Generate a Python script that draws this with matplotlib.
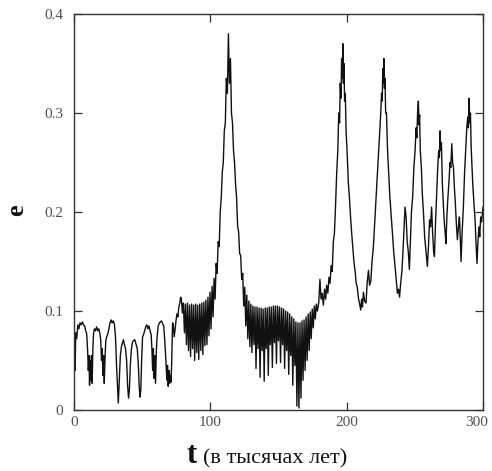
import numpy as np
import matplotlib
matplotlib.use("Agg")
import matplotlib.pyplot as plt
from matplotlib.transforms import ScaledTranslation

# ---- data (t in thousand years, e eccentricity) ----
# segment A: irregular early part (0 .. 78)
t_a = [0.0, 0.3, 0.8, 1.3, 2.0, 2.8, 3.6, 4.4, 5.3, 6.2, 7.0, 7.8, 8.6, 9.3,
       10.0, 10.5, 11.0, 11.4, 11.8, 12.3, 12.8, 13.3, 13.8, 14.3, 15.0, 15.8,
       16.6, 17.4, 18.2, 19.0, 19.6, 20.2, 20.7, 21.2, 21.7, 22.2, 22.7, 23.3,
       24.0, 24.8, 25.6, 26.4, 27.2, 28.0, 28.8, 29.6, 30.4, 31.2, 31.8, 32.5,
       33.2, 34.0, 34.8, 35.6, 36.2, 37.0, 37.8, 38.6, 39.3, 40.0, 40.6, 41.3,
       42.0, 42.8, 43.6, 44.6, 45.6, 46.4, 47.2, 47.8, 48.4, 49.0, 49.6, 50.3,
       51.0, 51.8, 52.6, 53.4, 54.2, 55.0, 55.8, 56.6, 57.2, 57.7, 58.2, 58.7,
       59.2, 59.8, 60.4, 61.0, 61.8, 62.6, 63.4, 64.2, 65.0, 65.8, 66.6, 67.4,
       68.1, 68.6, 69.1, 69.6, 70.1, 70.6, 71.1, 71.6, 72.3, 72.8, 73.5, 74.2,
       74.8, 75.5, 76.2, 76.9, 77.6, 78.2]
e_a = [0.017, 0.070, 0.040, 0.078, 0.072, 0.086, 0.082, 0.088, 0.086, 0.089,
       0.086, 0.085, 0.080, 0.077, 0.060, 0.040, 0.055, 0.025, 0.050, 0.030,
       0.055, 0.027, 0.060, 0.077, 0.082, 0.080, 0.084, 0.080, 0.082, 0.077,
       0.071, 0.050, 0.062, 0.035, 0.055, 0.027, 0.050, 0.070, 0.074, 0.077,
       0.082, 0.088, 0.091, 0.088, 0.090, 0.087, 0.075, 0.045, 0.027, 0.007,
       0.030, 0.055, 0.064, 0.068, 0.071, 0.066, 0.062, 0.050, 0.025, 0.012,
       0.020, 0.045, 0.060, 0.068, 0.070, 0.071, 0.066, 0.062, 0.045, 0.025,
       0.013, 0.020, 0.050, 0.074, 0.076, 0.080, 0.084, 0.086, 0.082, 0.085,
       0.080, 0.076, 0.060, 0.040, 0.062, 0.032, 0.055, 0.027, 0.060, 0.075,
       0.085, 0.088, 0.089, 0.090, 0.087, 0.085, 0.070, 0.050, 0.030, 0.045,
       0.024, 0.040, 0.027, 0.035, 0.028, 0.045, 0.088, 0.086, 0.074,
       0.082, 0.090, 0.097, 0.094, 0.104, 0.108, 0.114]

# segment B: densely oscillating part (78.75 .. 178.5), sampled every 0.75
t_b_start = 78.75
t_b_step = 0.75
e_b = [0.112, 0.098, 0.108, 0.078, 0.107, 0.066, 0.108, 0.060, 0.106, 0.054,
       0.107, 0.062, 0.106, 0.050, 0.107, 0.058, 0.106, 0.051, 0.107, 0.060,
       0.108, 0.056, 0.109, 0.065, 0.111, 0.066, 0.114, 0.075, 0.119, 0.082,
       0.125, 0.094, 0.133, 0.112, 0.148, 0.138, 0.170, 0.165, 0.200, 0.214,
       0.240, 0.250, 0.282, 0.290, 0.335, 0.320, 0.380, 0.330, 0.355, 0.300,
       0.290, 0.262, 0.250, 0.228, 0.215, 0.186, 0.180, 0.158, 0.156, 0.132,
       0.138, 0.105, 0.124, 0.085, 0.116, 0.072, 0.110, 0.064, 0.107, 0.058,
       0.105, 0.066, 0.104, 0.042, 0.104, 0.062, 0.103, 0.033, 0.103, 0.060,
       0.102, 0.029, 0.103, 0.062, 0.103, 0.035, 0.104, 0.066, 0.104, 0.043,
       0.105, 0.068, 0.105, 0.047, 0.105, 0.070, 0.104, 0.048, 0.103, 0.066,
       0.102, 0.042, 0.100, 0.060, 0.099, 0.036, 0.097, 0.055, 0.094, 0.025,
       0.092, 0.045, 0.089, 0.004, 0.088, 0.002, 0.088, 0.012, 0.090, 0.030,
       0.091, 0.040, 0.094, 0.050, 0.097, 0.060, 0.099, 0.072, 0.102, 0.083,
       0.105, 0.092, 0.107, 0.100]

# segment C: late part with the large peaks (179.5 .. 300)
t_c = [179.5, 180.4, 181.2, 182.0, 182.9, 183.8, 184.6, 185.3, 186.2, 187.0,
       187.8, 188.6, 189.4, 190.2, 191.0, 191.8, 192.7, 193.5, 194.2, 194.8,
       195.3, 195.8, 196.3, 196.8, 197.2, 197.6, 198.0, 198.5, 199.0, 199.6,
       200.3, 201.2, 202.0, 202.8, 203.6, 204.5, 205.3, 206.2, 207.0, 207.8,
       208.6, 209.4, 210.3, 211.0, 211.6, 212.3, 213.2, 214.2, 215.0, 216.0,
       216.8, 217.7, 218.6, 219.6, 220.6, 221.6, 222.6, 223.5, 224.3, 225.0,
       225.6, 226.1, 226.5, 226.9, 227.3, 227.7, 228.1, 228.6, 229.2, 230.0,
       230.8, 231.7, 232.6, 233.5, 234.5, 235.5, 236.4, 237.2, 238.0, 238.8,
       239.6, 240.5, 241.3, 242.0, 242.8, 243.6, 244.4, 245.2, 246.0, 246.7,
       247.5, 248.4, 249.3, 250.2, 250.9, 251.5, 252.0, 252.6, 253.0, 253.5,
       254.0, 254.8, 255.5, 256.3, 257.2, 258.2, 259.2, 260.0, 260.8, 261.5,
       262.3, 263.0, 263.8, 264.4, 265.2, 266.0, 266.8, 267.5, 268.0, 268.5,
       269.0, 269.5, 270.2, 271.0, 271.7, 272.3, 272.8, 273.5, 274.1, 275.0,
       275.8, 276.4, 277.1, 277.7, 278.3, 279.0, 279.6, 280.4, 281.2, 282.0,
       282.7, 283.3, 283.9, 284.7, 285.6, 286.5, 287.4, 288.1, 288.8, 289.3,
       289.8, 290.3, 290.8, 291.3, 292.0, 292.5, 293.3, 294.2, 295.0, 295.6,
       296.3, 297.0, 297.6, 298.3, 299.0, 300.0]
e_c = [0.108, 0.132, 0.112, 0.118, 0.106, 0.122, 0.112, 0.126, 0.118, 0.134,
       0.128, 0.146, 0.140, 0.170, 0.178, 0.205, 0.240, 0.262, 0.300, 0.290,
       0.330, 0.315, 0.355, 0.335, 0.370, 0.330, 0.350, 0.312, 0.320, 0.280,
       0.262, 0.230, 0.215, 0.196, 0.180, 0.164, 0.150, 0.140, 0.128, 0.124,
       0.113, 0.108, 0.101, 0.112, 0.104, 0.119, 0.110, 0.108, 0.128, 0.141,
       0.126, 0.130, 0.150, 0.165, 0.190, 0.215, 0.240, 0.262, 0.282, 0.300,
       0.320, 0.312, 0.345, 0.330, 0.355, 0.325, 0.335, 0.300, 0.300, 0.262,
       0.240, 0.215, 0.198, 0.180, 0.160, 0.145, 0.130, 0.118, 0.122, 0.114,
       0.128, 0.140, 0.160, 0.180, 0.205, 0.195, 0.170, 0.160, 0.142, 0.168,
       0.200, 0.215, 0.245, 0.262, 0.285, 0.275, 0.300, 0.312, 0.288, 0.298,
       0.262, 0.245, 0.218, 0.200, 0.175, 0.160, 0.145, 0.165, 0.192, 0.185,
       0.205, 0.180, 0.160, 0.155, 0.190, 0.218, 0.245, 0.262, 0.255, 0.282,
       0.262, 0.270, 0.228, 0.205, 0.188, 0.178, 0.168, 0.195, 0.211, 0.230,
       0.250, 0.245, 0.269, 0.250, 0.246, 0.225, 0.212, 0.190, 0.172, 0.185,
       0.195, 0.175, 0.150, 0.180, 0.205, 0.240, 0.266, 0.285, 0.296, 0.285,
       0.315, 0.290, 0.300, 0.266, 0.245, 0.228, 0.210, 0.192, 0.165, 0.148,
       0.170, 0.185, 0.175, 0.195, 0.190, 0.205]

x_ticks = [0, 100, 200, 300]
x_tick_labels = ["0", "100", "200", "300"]
y_ticks = [0, 0.1, 0.2, 0.3, 0.4]
y_tick_labels = ["0", "0.1", "0.2", "0.3", "0.4"]

# ---- assemble ----
t_b = t_b_start + t_b_step * np.arange(len(e_b))
t = np.concatenate([t_a, t_b, t_c])
e = np.concatenate([e_a, e_b, e_c])

plt.rcParams["font.family"] = ["Liberation Serif", "DejaVu Serif"]

fig = plt.figure(figsize=(4.92, 4.71), dpi=100)
ax = fig.add_axes([74 / 492, 1 - 410 / 471, (483 - 74) / 492, (410 - 14) / 471])

ax.plot(t, e, color="#111111", linewidth=1.0)

ax.set_xlim(0, 300)
ax.set_ylim(0, 0.4)
ax.set_xticks(x_ticks)
ax.set_xticklabels(x_tick_labels)
ax.set_yticks(y_ticks)
ax.set_yticklabels(y_tick_labels)
ax.tick_params(direction="in", length=6, width=0.9, top=True, right=True,
               labelsize=11, labelcolor="#505050", color="#333333")
ax.tick_params(axis="x", pad=4)
ax.tick_params(axis="y", pad=8)
for s in ax.spines.values():
    s.set_linewidth(1.0)
    s.set_color("#333333")

# keep the last x tick label inside the canvas
last = ax.get_xticklabels()[-1]
last.set_transform(last.get_transform() + ScaledTranslation(-6 / 100, 0, fig.dpi_scale_trans))

fig.text(197 / 492, 1 - 463 / 471, "t", ha="right", va="baseline",
         fontsize=22, fontweight="bold", color="#111111")
fig.text(203 / 492, 1 - 463 / 471, "(в тысячах лет)", ha="left", va="baseline",
         fontsize=16, color="#111111")
fig.text(17 / 492, 1 - 210 / 471, "e", ha="center", va="center", rotation=90,
         fontsize=19, fontweight="bold", color="#111111")

fig.savefig("out.png", dpi=100)
